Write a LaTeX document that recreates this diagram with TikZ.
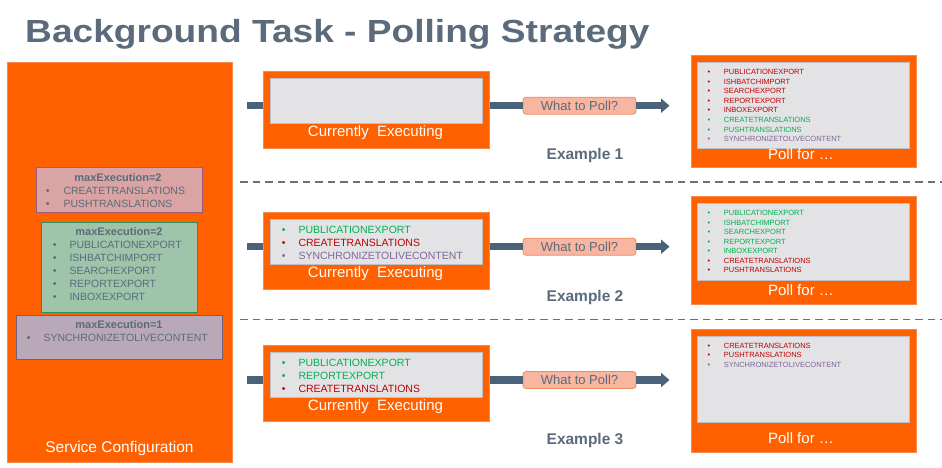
\documentclass[tikz,border=0pt]{standalone}
\usepackage{fontspec}
\setmainfont{Liberation Sans}
\usetikzlibrary{arrows.meta}
\definecolor{orng}{HTML}{FF6000}
\definecolor{orngline}{HTML}{F58A50}
\definecolor{slate}{HTML}{5B6B7C}
\definecolor{arrowc}{HTML}{4B637A}
\definecolor{innerg}{HTML}{E3E3E6}
\definecolor{innerl}{HTML}{BEBEC4}
\definecolor{pillf}{HTML}{F8B5A0}
\definecolor{pilll}{HTML}{F08A5A}
\definecolor{pinkf}{HTML}{D9A4A3}
\definecolor{pinkl}{HTML}{9E5C74}
\definecolor{greenf}{HTML}{9EC4AA}
\definecolor{greenl}{HTML}{2E8F5A}
\definecolor{purpf}{HTML}{B9A9B8}
\definecolor{purpl}{HTML}{6E5F80}
\definecolor{tgreen}{HTML}{00B050}
\definecolor{tred}{HTML}{C00000}
\definecolor{tpurp}{HTML}{7F6599}
\definecolor{dashc}{HTML}{707070}
\newcommand\fs[1]{\fontsize{#1}{#1}\selectfont}
\newcommand\itemlist[7]{%
  \foreach \cl/\tx [count=\i] in {#7} {
    \node[itm, font=\fs{#6}, text=\cl] (#1t\i) at (#3, {#4+(\i-1)*#5+0.358*#6}) {\tx};
    \node[itm, font=\fs{#6}, text=\cl] (#1b\i) at (#2, {#4+(\i-1)*#5+0.358*#6}) {\textbullet};
  }}
\begin{document}
\begin{tikzpicture}[x=1pt,y=-1pt,
  obox/.style={draw=orngline, fill=orng, line width=1pt, inner sep=0, rectangle},
  gbox/.style={draw=innerl, fill=innerg, line width=0.8pt, inner sep=0, rectangle},
  cbox/.style args={#1/#2}{draw=#2, fill=#1, line width=1pt, inner sep=0, rectangle},
  pill/.style={draw=pilll, fill=pillf, line width=0.8pt, rounded corners=3pt, inner sep=0,
    minimum width=113pt, minimum height=17pt, text=slate, font=\fs{13}},
  itm/.style={anchor=base west, inner sep=0},
  wlabel/.style={text=white, font=\fs{15}, inner sep=0},
  exlabel/.style={text=slate, font=\bfseries\fs{15.5}, inner sep=0},
  mtitle/.style={text=slate, font=\bfseries\fs{11}, inner sep=0, anchor=base},
  conn/.style={draw=arrowc, line width=7.5pt},
  sep/.style={draw=dashc, line width=1.8pt, dash pattern=on 7.5pt off 5pt}
]
\path[use as bounding box, fill=white] (0,0) rectangle (942,467);

% title
\node[anchor=base west, inner sep=0, text=slate, font=\bfseries\fs{32}] (title) at (25,42)
  {\scalebox{1.16}[1]{Background Task - Polling Strategy}};

% service configuration
\node[obox, minimum width=225pt, minimum height=400pt] (svc) at (119.5,262) {};
\node[wlabel, font=\fs{15.5}] (svcl) at (119.5,448) {Service Configuration};

\node[cbox=pinkf/pinkl, minimum width=166pt, minimum height=45pt] (pink) at (119,189.5) {};
\node[mtitle] (pinkh) at (118,181.9) {maxExecution=2};
\itemlist{pk}{45.7}{63.3}{191}{13}{10.5}{slate/CREATETRANSLATIONS, slate/PUSHTRANSLATIONS}

\node[cbox=greenf/greenl, minimum width=156pt, minimum height=90pt] (green) at (119,267) {};
\node[mtitle] (greenh) at (119,235.9) {maxExecution=2};
\itemlist{gr}{52.7}{69.3}{245}{12.85}{10.5}{slate/PUBLICATIONEXPORT, slate/ISHBATCHIMPORT, slate/SEARCHEXPORT, slate/REPORTEXPORT, slate/INBOXEXPORT}

\node[cbox=purpf/purpl, minimum width=206pt, minimum height=44pt] (purp) at (119,337) {};
\node[mtitle] (purph) at (119,328.9) {maxExecution=1};
\itemlist{pu}{26.7}{43.3}{338}{13}{10.5}{slate/SYNCHRONIZETOLIVECONTENT}

% separators
\coordinate (d1a) at (240,182);
\coordinate (d1b) at (942,182);
\coordinate (d2a) at (240,319.5);
\coordinate (d2b) at (942,319.5);
\draw[sep] (d1a) -- (d1b);
\draw[sep] (d2a) -- (d2b);

% ---------- Example 1
\node[obox, minimum width=226pt, minimum height=77pt] (cur1) at (376,109.5) {};
\node[gbox, minimum width=212pt, minimum height=45pt] (cin1) at (376,100.5) {};
\node[wlabel] (cl1) at (375.5,133) {Currently\ \ Executing};
\node[obox, minimum width=225pt, minimum height=112pt] (poll1) at (803.5,111) {};
\node[gbox, minimum width=212pt, minimum height=86pt] (pin1) at (803,105) {};
\node[wlabel] (pl1) at (801,154) {Poll for \dots};
\itemlist{ra}{707.3}{723.7}{72}{9.57}{7.5}{tred/PUBLICATIONEXPORT, tred/ISHBATCHIMPORT, tred/SEARCHEXPORT, tred/REPORTEXPORT, tred/INBOXEXPORT, tgreen/CREATETRANSLATIONS, tgreen/PUSHTRANSLATIONS, tpurp/SYNCHRONIZETOLIVECONTENT}
\node[pill] (pill1) at (579.5,105.7) {What to Poll?};
\node[exlabel] (ex1) at (585,155) {Example 1};
\coordinate (s1) at (247,105.7);
\draw[conn] (s1) -- (s1 -| cur1.west);
\draw[conn] (cur1.east |- s1) -- (pill1.west);
\draw[conn, -{Triangle[length=8.5pt,width=14pt]}, shorten >=21pt] (pill1.east) -- (pill1.east -| poll1.west);

% ---------- Example 2
\node[obox, minimum width=226pt, minimum height=77pt] (cur2) at (376,250.5) {};
\node[gbox, minimum width=212pt, minimum height=45pt] (cin2) at (376,241.5) {};
\node[wlabel] (cl2) at (375.5,274) {Currently\ \ Executing};
\itemlist{mb}{281.7}{298.3}{230}{13}{10.5}{tgreen/PUBLICATIONEXPORT, tred/CREATETRANSLATIONS, tpurp/SYNCHRONIZETOLIVECONTENT}
\node[obox, minimum width=225pt, minimum height=108pt] (poll2) at (803.5,250) {};
\node[gbox, minimum width=212pt, minimum height=77pt] (pin2) at (803,241.5) {};
\node[wlabel] (pl2) at (801,290) {Poll for \dots};
\itemlist{rb}{707.3}{723.7}{213.3}{9.45}{7.5}{tgreen/PUBLICATIONEXPORT, tgreen/ISHBATCHIMPORT, tgreen/SEARCHEXPORT, tgreen/REPORTEXPORT, tgreen/INBOXEXPORT, tred/CREATETRANSLATIONS, tred/PUSHTRANSLATIONS}
\node[pill] (pill2) at (579.5,246.7) {What to Poll?};
\node[exlabel] (ex2) at (585,297) {Example 2};
\coordinate (s2) at (247,246.7);
\draw[conn] (s2) -- (s2 -| cur2.west);
\draw[conn] (cur2.east |- s2) -- (pill2.west);
\draw[conn, -{Triangle[length=8.5pt,width=14pt]}, shorten >=21pt] (pill2.east) -- (pill2.east -| poll2.west);

% ---------- Example 3
\node[obox, minimum width=226pt, minimum height=76pt] (cur3) at (376,383) {};
\node[gbox, minimum width=212pt, minimum height=45pt] (cin3) at (376,374.5) {};
\node[wlabel] (cl3) at (375.5,407) {Currently\ \ Executing};
\itemlist{mc}{281.7}{298.3}{362.7}{13.1}{10.5}{tgreen/PUBLICATIONEXPORT, tgreen/REPORTEXPORT, tred/CREATETRANSLATIONS}
\node[obox, minimum width=225pt, minimum height=123pt] (poll3) at (803.5,390.5) {};
\node[gbox, minimum width=212pt, minimum height=86pt] (pin3) at (803,379) {};
\node[wlabel] (pl3) at (801,438) {Poll for \dots};
\itemlist{rc}{707.3}{723.7}{345.7}{9.6}{7.5}{tred/CREATETRANSLATIONS, tred/PUSHTRANSLATIONS, tpurp/SYNCHRONIZETOLIVECONTENT}
\node[pill] (pill3) at (579.5,380) {What to Poll?};
\node[exlabel] (ex3) at (585,440) {Example 3};
\coordinate (s3) at (247,380);
\draw[conn] (s3) -- (s3 -| cur3.west);
\draw[conn] (cur3.east |- s3) -- (pill3.west);
\draw[conn, -{Triangle[length=8.5pt,width=14pt]}, shorten >=21pt] (pill3.east) -- (pill3.east -| poll3.west);
\end{tikzpicture}
\end{document}
